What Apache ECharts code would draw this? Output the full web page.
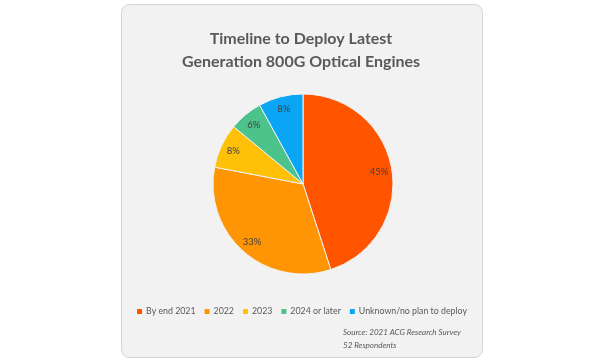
<!DOCTYPE html>
<html><head><meta charset="utf-8">
<script src="https://cdn.jsdelivr.net/npm/echarts@6/dist/echarts.min.js"></script>
<style>html,body{margin:0;padding:0;background:#fff;}#c{width:602px;height:364px;}</style>
</head><body><div id="c"></div>
<script>
const categories = ['By end 2021', '2022', '2023', '2024 or later', 'Unknown/no plan to deploy'];
const values = [45, 33, 8, 6, 8];
const colors = ['#FF5500', '#FF9505', '#FFC107', '#4CC38A', '#0BA5F5'];
const titleLines = ['Timeline to Deploy Latest', 'Generation 800G Optical Engines'];
const sourceLines = ['Source: 2021 ACG Research Survey', '52 Respondents'];

const data = categories.map((n, i) => ({name: n, value: values[i], itemStyle: {color: colors[i]}}));
const chart = echarts.init(document.getElementById('c'));
const font = 'Lato, "Open Sans", sans-serif';
chart.setOption({
  animation: false,
  backgroundColor: '#ffffff',
  graphic: [{
    type: 'rect', z: -10, silent: true,
    shape: {x: 121.5, y: 4.5, width: 361, height: 353, r: 8},
    style: {fill: '#f2f2f2', stroke: '#d4d4d4', lineWidth: 1}
  }, {
    type: 'text', left: 343, top: 326, silent: true,
    style: {text: sourceLines.join('\n'), fill: '#595959', font: 'italic 8px ' + font, lineHeight: 13}
  }],
  title: {
    text: titleLines.join('\n'), left: 'center', top: 22,
    textStyle: {fontFamily: font, fontSize: 16, fontWeight: 'bold', color: '#595959', lineHeight: 23}
  },
  legend: {
    data: categories, top: 302, left: 'center', icon: 'rect', itemWidth: 7, itemHeight: 7, itemGap: 7,
    textStyle: {fontFamily: font, fontSize: 8.8, color: '#595959', padding: [0, 0, 0, -2]}
  },
  series: [{
    type: 'pie', center: [303, 184], radius: [0, 90], startAngle: 90, clockwise: true,
    label: {show: false}, labelLine: {show: false},
    itemStyle: {borderColor: '#f2f2f2', borderWidth: 1},
    data: data
  }, {
    type: 'pie', center: [303, 184], radius: [60, 88], startAngle: 90, clockwise: true, silent: true,
    itemStyle: {color: 'rgba(0,0,0,0)', borderWidth: 0},
    label: {show: true, position: 'inside', formatter: '{c}%', fontFamily: font, fontSize: 9.5, color: '#404040'},
    labelLine: {show: false},
    data: categories.map((n, i) => ({name: n, value: values[i], itemStyle: {color: 'rgba(0,0,0,0)'}}))
  }]
});
</script></body></html>
